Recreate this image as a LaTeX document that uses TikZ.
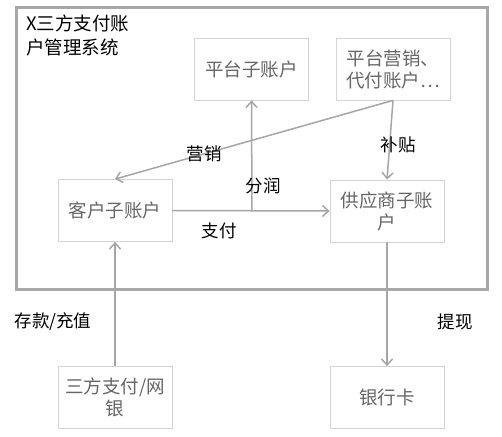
\documentclass[tikz,border=0pt]{standalone}
\usepackage{fontspec}
\setmainfont{Noto Sans CJK SC}
\usetikzlibrary{arrows.meta,shadows}
\definecolor{linegray}{HTML}{A6A6A6}
\definecolor{boxline}{HTML}{D4D4D4}
\definecolor{boxtext}{HTML}{666666}
\definecolor{frame}{HTML}{A8A8A8}
\tikzset{
  acct/.style={draw=boxline, line width=0.8pt, fill=white, minimum width=114pt, minimum height=62pt,
    inner sep=0pt, align=center, text=boxtext, font=\fontsize{18.5}{22}\selectfont,
    drop shadow={opacity=0.15, shadow xshift=0.8pt, shadow yshift=-0.8pt}},
  flow/.style={draw=linegray, line width=1.5pt, -{Straight Barb[length=6pt,width=11pt,line width=1.5pt]}},
  lbl/.style={text=black, font=\fontsize{17.5}{22}\selectfont, inner sep=0pt}
}
\begin{document}
\begin{tikzpicture}[x=1pt,y=-1pt]
\useasboundingbox[fill=white] (0,0) rectangle (502,436);
\node[draw=frame, line width=3pt, fill=white, minimum width=471pt, minimum height=281pt, inner sep=0pt,
  drop shadow={opacity=0.25, shadow xshift=1.5pt, shadow yshift=-1.5pt}] (sys) at (251.5,148.5) {};
\node[anchor=north west, align=left, inner sep=0pt, font=\fontsize{18.5}{24}\selectfont] (title) at (26,15) {X三方支付账\\户管理系统};
\node[acct] (p) at (251.5,69) {平台子账户};
\node[acct] (m) at (393,69) {平台营销、\\代付账户⋯};
\node[acct] (c) at (115,210.5) {客户子账户};
\node[acct] (s) at (387,211) {供应商子账\\户};
\node[acct] (t) at (115,397.5) {三方支付/网\\银};
\node[acct] (b) at (387,397.5) {银行卡};
\coordinate (j) at (252,211);
\draw[flow] (c.east) -- (s.west);
\draw[flow] (j) -- (p.south);
\draw[flow] (m.south) -- (c.north);
\draw[flow] (m.south) -- (s.north);
\draw[flow] (t.north) -- (c.south);
\draw[flow] (s.south) -- (b.north);
\node[lbl] (l1) at (204,154) {营销};
\node[lbl] (l2) at (398,145) {补贴};
\node[lbl] (l3) at (263,186) {分润};
\node[lbl] (l4) at (219,231) {支付};
\node[lbl] (l5) at (53,322) {存款/充值};
\node[lbl] (l6) at (455,322) {提现};
\end{tikzpicture}
\end{document}
